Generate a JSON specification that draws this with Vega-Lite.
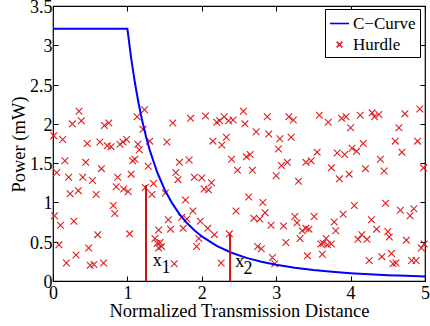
{
  "$schema": "https://vega.github.io/schema/vega-lite/v6.json",
  "width": 372,
  "height": 275,
  "autosize": {"type": "none"},
  "padding": {"left": 53, "top": 6, "right": 5, "bottom": 45},
  "background": "white",
  "config": {
    "font": "Liberation Serif",
    "view": {"stroke": "black", "strokeWidth": 1.2},
    "legend": {"labelFont": "Liberation Serif", "labelFontSize": 17, "labelColor": "black"},
    "axis": {"grid": false, "domain": false, "tickColor": "black", "tickSize": -5, "tickWidth": 1, "labelColor": "black", "labelFont": "Liberation Serif", "labelFontSize": 18, "titleFont": "Liberation Serif", "titleFontSize": 18.5, "titleFontWeight": "normal", "titleColor": "black", "labelOverlap": false, "labelFlush": false}
  },
  "datasets": {
    "hurdle": [
      {"d":0.35,"p":2.16},{"d":0.38,"p":2.04},{"d":0.26,"p":2.00},{"d":0.69,"p":1.98},{"d":0.75,"p":2.01},
      {"d":0.01,"p":1.85},{"d":0.13,"p":1.80},{"d":0.46,"p":1.75},{"d":0.63,"p":1.77},{"d":0.73,"p":1.72},
      {"d":0.78,"p":1.71},{"d":0.90,"p":1.74},{"d":0.94,"p":1.77},{"d":0.99,"p":1.80},{"d":1.14,"p":1.74},
      {"d":1.16,"p":1.67},{"d":0.16,"p":1.53},{"d":0.44,"p":1.51},{"d":0.65,"p":1.43},{"d":1.07,"p":1.53},
      {"d":1.10,"p":1.55},{"d":0.05,"p":1.38},{"d":0.21,"p":1.32},{"d":0.40,"p":1.32},{"d":0.53,"p":1.28},
      {"d":0.87,"p":1.32},{"d":1.05,"p":1.36},{"d":1.13,"p":2.09},{"d":1.21,"p":1.93},
      {"d":0.23,"p":1.11},{"d":0.34,"p":1.15},{"d":0.58,"p":1.10},{"d":0.85,"p":1.20},{"d":0.95,"p":1.17},
      {"d":1.01,"p":1.14},{"d":1.24,"p":1.19},{"d":0.81,"p":0.96},{"d":0.83,"p":0.86},{"d":0.02,"p":0.83},
      {"d":0.10,"p":0.71},{"d":0.28,"p":0.76},{"d":0.60,"p":0.59},{"d":1.03,"p":0.60},{"d":0.08,"p":0.46},
      {"d":0.48,"p":0.42},{"d":0.31,"p":0.33},{"d":0.18,"p":0.23},{"d":0.50,"p":0.20},{"d":0.55,"p":0.21},
      {"d":0.68,"p":0.23},
      {"d":1.23,"p":2.18},{"d":1.61,"p":2.01},{"d":1.85,"p":2.07},{"d":2.05,"p":2.10},{"d":2.20,"p":2.02},
      {"d":2.24,"p":2.04},{"d":2.30,"p":2.09},{"d":2.36,"p":2.04},{"d":2.42,"p":2.05},{"d":1.30,"p":1.78},
      {"d":1.53,"p":1.77},{"d":2.15,"p":1.78},{"d":2.27,"p":1.73},{"d":2.33,"p":1.83},{"d":1.70,"p":1.51},
      {"d":1.83,"p":1.54},{"d":1.28,"p":1.46},{"d":2.40,"p":1.55},{"d":2.48,"p":1.41},{"d":1.65,"p":1.38},
      {"d":1.68,"p":1.29},{"d":1.90,"p":1.32},{"d":2.00,"p":1.31},{"d":2.13,"p":1.25},{"d":1.35,"p":1.24},
      {"d":2.03,"p":1.17},{"d":2.09,"p":1.16},
      {"d":1.33,"p":1.10},{"d":1.51,"p":1.12},{"d":1.78,"p":1.03},{"d":1.88,"p":0.89},{"d":1.73,"p":0.81},
      {"d":1.80,"p":0.79},{"d":1.55,"p":0.78},{"d":1.98,"p":0.76},{"d":2.08,"p":0.67},{"d":1.42,"p":0.65},
      {"d":1.58,"p":0.66},{"d":1.75,"p":0.67},{"d":2.17,"p":0.59},{"d":2.46,"p":0.89},{"d":2.37,"p":0.60},
      {"d":1.37,"p":0.54},{"d":1.40,"p":0.48},{"d":1.44,"p":0.49},{"d":1.46,"p":0.44},{"d":1.42,"p":0.42},
      {"d":1.96,"p":0.54},{"d":1.93,"p":0.44},{"d":1.63,"p":0.22},{"d":2.26,"p":0.23},
      {"d":2.56,"p":2.16},{"d":2.88,"p":2.09},{"d":3.17,"p":2.09},{"d":3.23,"p":2.05},{"d":3.58,"p":2.11},
      {"d":3.70,"p":2.02},{"d":2.58,"p":2.00},{"d":2.73,"p":1.90},{"d":2.90,"p":1.87},{"d":3.05,"p":1.81},
      {"d":3.20,"p":1.83},{"d":3.03,"p":1.68},{"d":3.55,"p":1.64},{"d":2.60,"p":1.58},{"d":2.65,"p":1.61},
      {"d":2.68,"p":1.41},{"d":3.07,"p":1.47},{"d":3.15,"p":1.51},{"d":3.40,"p":1.51},{"d":3.47,"p":1.53},
      {"d":3.74,"p":1.44},{"d":3.00,"p":1.34},{"d":3.30,"p":1.27},
      {"d":2.63,"p":1.07},{"d":2.82,"p":1.00},{"d":2.85,"p":0.87},{"d":2.70,"p":0.80},{"d":2.78,"p":0.79},
      {"d":2.93,"p":0.71},{"d":3.10,"p":0.70},{"d":3.25,"p":0.82},{"d":3.28,"p":0.74},{"d":3.51,"p":0.82},
      {"d":3.35,"p":0.64},{"d":3.40,"p":0.67},{"d":3.44,"p":0.66},{"d":3.32,"p":0.54},{"d":3.13,"p":0.49},
      {"d":2.75,"p":0.44},{"d":2.80,"p":0.41},{"d":3.67,"p":0.54},{"d":3.63,"p":0.48},{"d":3.60,"p":0.47},
      {"d":3.69,"p":0.46},{"d":3.74,"p":0.47},{"d":3.62,"p":0.34},{"d":3.42,"p":0.32},{"d":2.95,"p":0.30},
      {"d":2.98,"p":0.22},
      {"d":4.05,"p":0.96},{"d":3.90,"p":0.85},{"d":4.47,"p":0.99},{"d":4.67,"p":0.90},{"d":4.85,"p":0.92},
      {"d":4.80,"p":0.83},{"d":3.78,"p":0.75},{"d":3.80,"p":0.64},{"d":4.28,"p":0.78},{"d":4.35,"p":0.66},
      {"d":4.50,"p":0.63},{"d":4.52,"p":0.56},{"d":4.15,"p":0.59},{"d":4.10,"p":0.53},{"d":4.22,"p":0.53},
      {"d":4.75,"p":0.52},{"d":4.95,"p":0.42},{"d":4.99,"p":0.47},{"d":4.25,"p":0.26},{"d":4.42,"p":0.31},
      {"d":4.55,"p":0.35},{"d":4.57,"p":0.22},{"d":4.61,"p":0.23},{"d":4.82,"p":0.26},{"d":4.88,"p":0.26},
      {"d":3.88,"p":2.07},{"d":3.94,"p":2.09},{"d":4.00,"p":1.95},{"d":4.13,"p":2.11},{"d":4.29,"p":2.14},
      {"d":4.32,"p":2.09},{"d":4.38,"p":2.12},{"d":4.73,"p":2.13},{"d":4.93,"p":2.19},{"d":4.65,"p":1.95},
      {"d":4.17,"p":1.75},{"d":4.02,"p":1.69},{"d":4.08,"p":1.65},{"d":3.82,"p":1.63},{"d":3.92,"p":1.61},
      {"d":4.60,"p":1.78},{"d":4.90,"p":1.78},{"d":4.69,"p":1.64},{"d":4.40,"p":1.55},{"d":4.20,"p":1.43},
      {"d":4.45,"p":1.40},{"d":4.98,"p":1.44},{"d":3.98,"p":1.36},{"d":3.85,"p":1.30}
    ],
    "curve": [
      {"d":0,"p":3.21},{"d":1.0,"p":3.21},{"d":1.05,"p":2.841},{"d":1.1,"p":2.529},{"d":1.15,"p":2.263},
      {"d":1.2,"p":2.035},{"d":1.25,"p":1.838},{"d":1.3,"p":1.666},{"d":1.4,"p":1.384},{"d":1.5,"p":1.165},
      {"d":1.6,"p":0.991},{"d":1.7,"p":0.852},{"d":1.8,"p":0.738},{"d":1.9,"p":0.645},{"d":2.0,"p":0.567},
      {"d":2.2,"p":0.447},{"d":2.4,"p":0.360},{"d":2.6,"p":0.294},{"d":2.8,"p":0.245},{"d":3.0,"p":0.206},
      {"d":3.25,"p":0.169},{"d":3.5,"p":0.140},{"d":3.75,"p":0.118},{"d":4.0,"p":0.100},{"d":4.25,"p":0.0862},
      {"d":4.5,"p":0.0747},{"d":4.75,"p":0.0653},{"d":5.0,"p":0.0574}
    ],
    "thresholds": [{"d":1.25,"top":1.22,"base":0},{"d":2.38,"top":0.60,"base":0}],
    "marks": [
      {"d":1.40,"p":0.255,"t":"x"},{"d":1.52,"p":0.16,"t":"1"},
      {"d":2.51,"p":0.24,"t":"x"},{"d":2.62,"p":0.147,"t":"2"}
    ]
  },
  "layer": [
    {
      "data": {"name": "hurdle"},
      "mark": {"type": "point", "filled": false, "size": 500, "strokeWidth": 1.1, "opacity": 1},
      "encoding": {
        "x": {"field": "d", "type": "quantitative", "scale": {"domain": [0, 5], "nice": false},
              "axis": {"orient": "top", "values": [0,1,2,3,4,5], "labels": false, "title": null}},
        "y": {"field": "p", "type": "quantitative", "scale": {"domain": [0, 3.5], "nice": false},
              "axis": {"orient": "right", "values": [0,0.5,1,1.5,2,2.5,3,3.5], "labels": false, "title": null}},
        "color": {"datum": "Hurdle", "type": "nominal",
                  "scale": {"domain": ["C\u2212Curve", "Hurdle"], "range": ["#0000ff", "#e01e1e"]},
                  "legend": {"title": null, "orient": "none", "legendX": 272, "legendY": 3,
                             "strokeColor": "black", "fillColor": "white", "padding": 4,
                             "symbolSize": 361, "symbolStrokeWidth": 1.6, "labelFontSize": 17,
                             "labelFont": "Liberation Serif", "labelColor": "black", "labelOffset": 3,
                             "rowPadding": 2}},
        "shape": {"datum": "Hurdle", "type": "nominal",
                  "scale": {"domain": ["C\u2212Curve", "Hurdle"], "range": ["stroke", "M-0.3,-0.3L0.3,0.3M-0.3,0.3L0.3,-0.3"]},
                  "legend": {"title": null, "labelFont": "Liberation Serif", "labelFontSize": 17}}
      }
    },
    {
      "data": {"name": "curve"},
      "mark": {"type": "line", "color": "#0000ff", "strokeWidth": 2},
      "encoding": {
        "x": {"field": "d", "type": "quantitative", "scale": {"domain": [0, 5], "nice": false},
              "axis": {"orient": "bottom", "values": [0,1,2,3,4,5], "format": "~g", "labelPadding": 8,
                       "title": "Normalized Transmission Distance", "titleY": 35, "titleBaseline": "alphabetic"}},
        "y": {"field": "p", "type": "quantitative", "scale": {"domain": [0, 3.5], "nice": false},
              "axis": {"orient": "left", "values": [0,0.5,1,1.5,2,2.5,3,3.5], "format": "~g", "labelPadding": 6, "labelOffset": 1.5,
                       "title": "Power (mW)", "titleX": -29, "titleY": 138, "titleBaseline": "alphabetic"}}
      }
    },
    {
      "data": {"name": "thresholds"},
      "mark": {"type": "rule", "color": "#cc1111", "strokeWidth": 2},
      "encoding": {
        "x": {"field": "d", "type": "quantitative", "axis": null},
        "y": {"field": "top", "type": "quantitative", "axis": null},
        "y2": {"field": "base"}
      }
    },
    {
      "data": {"name": "marks"},
      "mark": {"type": "text", "fontSize": 18, "font": "Liberation Serif", "color": "black", "align": "center", "baseline": "middle"},
      "encoding": {
        "x": {"field": "d", "type": "quantitative", "axis": null},
        "y": {"field": "p", "type": "quantitative", "axis": null},
        "text": {"field": "t", "type": "nominal"}
      }
    }
  ],
  "resolve": {"axis": {"x": "independent", "y": "independent"}}
}
